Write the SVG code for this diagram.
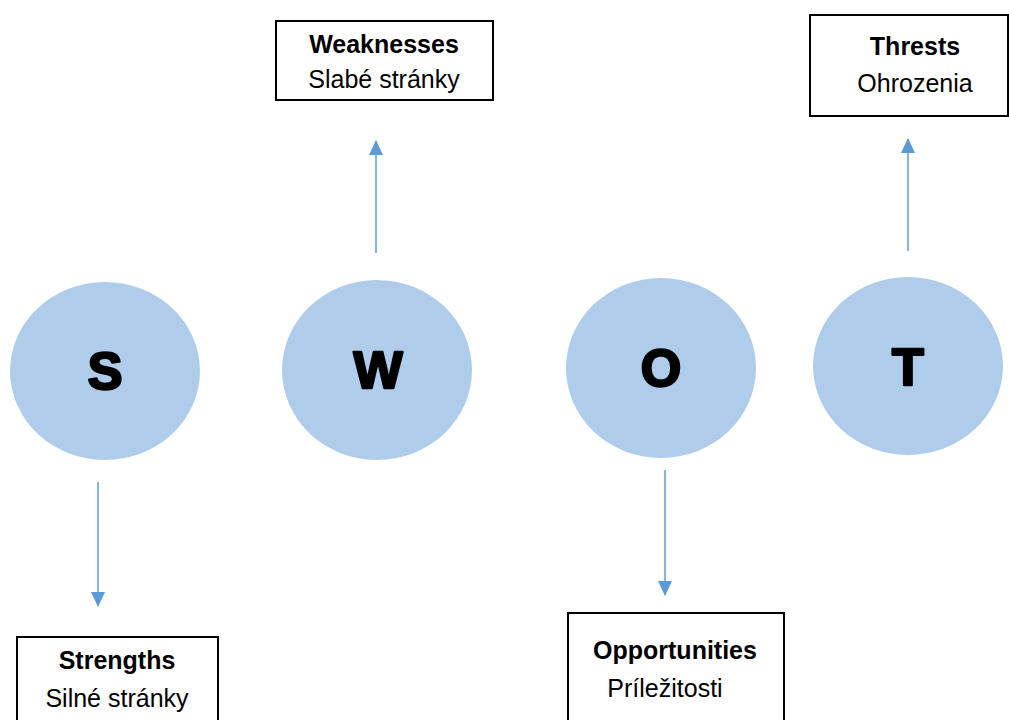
<svg xmlns="http://www.w3.org/2000/svg" width="1009" height="720" viewBox="0 0 1009 720">
<style>
.c{fill:#afcdea}
.l{font-family:"Liberation Sans",Arial,sans-serif;font-weight:bold;font-size:52px;fill:#000;stroke:#000;stroke-width:2.5;stroke-linejoin:round;text-anchor:middle}
.b{fill:#fff;stroke:#000;stroke-width:2}
.t{font-family:"Liberation Sans",Arial,sans-serif;font-size:25px;fill:#000;text-anchor:middle}
.tb{font-weight:bold}
.a{stroke:#5b9bd5;stroke-width:1.5;fill:none;marker-end:url(#ah)}
</style>
<defs>
<marker id="ah" viewBox="0 0 15 14" refX="14" refY="7" markerWidth="15" markerHeight="14" markerUnits="userSpaceOnUse" orient="auto">
<path d="M0,0 L15,7 L0,14 Z" fill="#5b9bd5"/>
</marker>
</defs>
<rect width="1009" height="720" fill="#fff"/>
<g id="connectors">
<line class="a" x1="376" y1="253" x2="376" y2="141"/>
<line class="a" x1="908" y1="251" x2="908" y2="139"/>
<line class="a" x1="98" y1="482" x2="98" y2="606"/>
<line class="a" x1="665" y1="470" x2="665" y2="595"/>
</g>
<g id="node-s"><ellipse class="c" cx="105" cy="371" rx="95" ry="89"/><text class="l" x="105" y="389">S</text></g>
<g id="node-w"><ellipse class="c" cx="377" cy="370" rx="95" ry="90"/><text class="l" x="378" y="388">W</text></g>
<g id="node-o"><ellipse class="c" cx="661" cy="368" rx="95" ry="90"/><text class="l" x="661" y="386">O</text></g>
<g id="node-t"><ellipse class="c" cx="908" cy="366" rx="95" ry="89"/><text class="l" x="908" y="385">T</text></g>
<g id="box-weaknesses"><rect class="b" x="276" y="21" width="217" height="79"/>
<text class="t tb" x="384" y="53">Weaknesses</text><text class="t" x="384" y="88">Slabé stránky</text></g>
<g id="box-threats"><rect class="b" x="810" y="15" width="198" height="101"/>
<text class="t tb" x="915" y="55">Thrests</text><text class="t" x="915" y="92">Ohrozenia</text></g>
<g id="box-strengths"><rect class="b" x="17" y="637" width="201" height="90"/>
<text class="t tb" x="117" y="669">Strengths</text><text class="t" x="117" y="707">Silné stránky</text></g>
<g id="box-opportunities"><rect class="b" x="568" y="613" width="216" height="114"/>
<text class="t tb" x="675" y="659">Opportunities</text><text class="t" x="665" y="697">Príležitosti</text></g>
</svg>
